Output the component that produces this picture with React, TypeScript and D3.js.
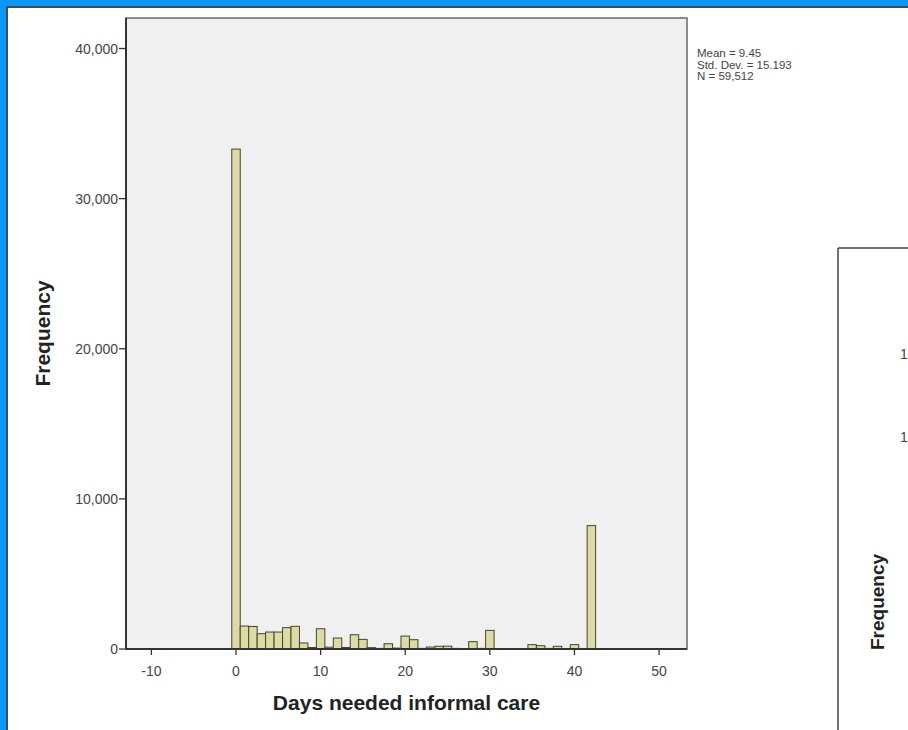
import React from "react";
import * as d3 from "d3";

const days: number[] = Array.from({ length: 43 }, (_, i) => i);
const frequency: number[] = [
  33300, 1530, 1500, 1020, 1130, 1130, 1420, 1510, 400, 100,
  1350, 120, 730, 100, 950, 640, 90, 40, 350, 60,
  860, 620, 40, 130, 180, 190, 40, 0, 490, 40,
  1240, 0, 0, 0, 20, 290, 220, 40, 180, 20,
  290, 20, 8220,
];
const xTicks: number[] = [-10, 0, 10, 20, 30, 40, 50];
const yTicks: number[] = [0, 10000, 20000, 30000, 40000];
const statsLines: string[] = ["Mean = 9.45", "Std. Dev. = 15.193", "N = 59,512"];
const xTitle = "Days needed informal care";
const yTitle = "Frequency";

export default function App() {
  const W = 908, H = 730;
  const left = 126, right = 687, top = 18, bottom = 649;
  const x = d3.scaleLinear().domain([-13, 53.3]).range([left, right]);
  const y = d3.scaleLinear().domain([0, 40000]).range([bottom, 48.5]);
  const fmt = d3.format(",");
  const font = "'Liberation Sans', Arial, sans-serif";

  return (
    <svg width={W} height={H} style={{ position: "absolute", left: 0, top: 0, display: "block" }}>
      <rect x={0} y={0} width={W} height={H} fill="#ffffff" />
      {/* blue frame */}
      <rect x={0} y={0} width={W} height={6} fill="#0a97f7" />
      <rect x={0} y={0} width={6} height={H} fill="#0a97f7" />
      <rect x={6} y={6} width={W - 6} height={2} fill="#4a4a4a" />
      <rect x={6} y={6} width={2} height={H - 6} fill="#4a4a4a" />

      {/* plot background */}
      <rect x={left} y={top} width={right - left} height={bottom - top} fill="#f0f0f0" stroke="#6a6a6a" strokeWidth={1.5} />

      {/* bars */}
      {days.map((d, i) =>
        frequency[i] > 0 ? (
          <rect
            key={d}
            x={x(d - 0.5)}
            y={y(frequency[i])}
            width={x(d + 0.5) - x(d - 0.5)}
            height={bottom - y(frequency[i])}
            fill="#dcdba6"
            stroke="#45452a"
            strokeWidth={1}
          />
        ) : null
      )}

      {/* axes lines */}
      <line x1={left} x2={right} y1={bottom} y2={bottom} stroke="#333" strokeWidth={2} />
      <line x1={left} x2={left} y1={top} y2={bottom} stroke="#333" strokeWidth={2} />

      {/* y ticks */}
      {yTicks.map((t) => (
        <g key={t}>
          <line x1={left - 7} x2={left} y1={y(t)} y2={y(t)} stroke="#333" strokeWidth={1.3} />
          <text x={left - 8} y={y(t)} dy="0.36em" textAnchor="end" fontSize={14} fill="#444" fontFamily={font}>
            {fmt(t)}
          </text>
        </g>
      ))}

      {/* x ticks */}
      {xTicks.map((t) => (
        <g key={t}>
          <line x1={x(t)} x2={x(t)} y1={bottom} y2={bottom + 6} stroke="#333" strokeWidth={1.3} />
          <text x={x(t)} y={bottom + 27} textAnchor="middle" fontSize={14} fill="#444" fontFamily={font}>
            {t}
          </text>
        </g>
      ))}

      <text x={(left + right) / 2} y={710} textAnchor="middle" fontSize={21} fontWeight="bold" fill="#222" fontFamily={font}>
        {xTitle}
      </text>
      <text
        transform={`translate(50, ${(top + bottom) / 2}) rotate(-90)`}
        textAnchor="middle"
        fontSize={21}
        fontWeight="bold"
        fill="#222"
        fontFamily={font}
      >
        {yTitle}
      </text>

      {/* stats */}
      {statsLines.map((s, i) => (
        <text key={s} x={697} y={57 + i * 11.5} fontSize={11.5} fill="#444" fontFamily={font}>
          {s}
        </text>
      ))}

      {/* partial second panel */}
      <line x1={838} x2={W} y1={248} y2={248} stroke="#444" strokeWidth={1.5} />
      <line x1={838} x2={838} y1={248} y2={H} stroke="#444" strokeWidth={1.5} />
      <text x={900} y={359} fontSize={14} fill="#444" fontFamily={font}>1</text>
      <text x={900} y={442} fontSize={14} fill="#444" fontFamily={font}>1</text>
      <text
        transform={`translate(884, 602) rotate(-90)`}
        textAnchor="middle"
        fontSize={19}
        fontWeight="bold"
        fill="#222"
        fontFamily={font}
      >
        {yTitle}
      </text>
    </svg>
  );
}
